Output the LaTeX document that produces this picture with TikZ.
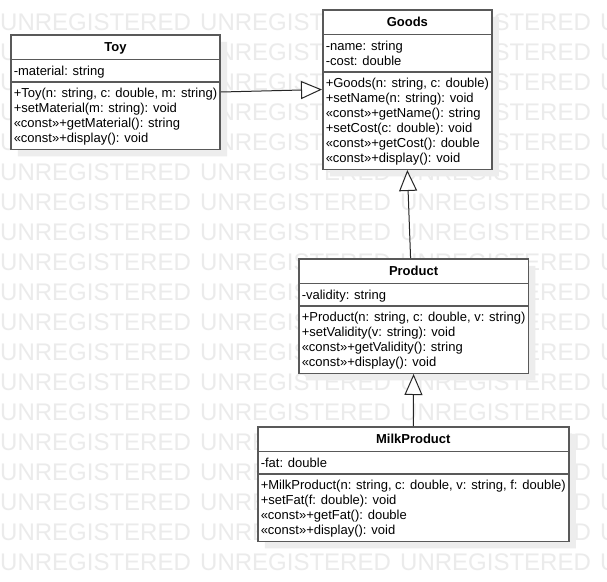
\documentclass[tikz,border=0pt]{standalone}
\usepackage{fontspec}
\setmainfont{Liberation Sans}
\usetikzlibrary{shapes.multipart,arrows.meta,shadows,calc}
\newcommand{\rowstrut}{\rule[-3pt]{0pt}{15pt}}
\newcommand{\headstrut}{\rule[-4pt]{0pt}{17pt}}
\begin{document}
\begin{tikzpicture}[x=1pt,y=-1pt,
  umlclass/.style={rectangle split, rectangle split parts=3,
    rectangle split part align={center,left,left}, align=left,
    draw=black!65, line width=1.5pt, fill=white,
    inner xsep=3pt, inner ysep=3pt, anchor=north west,
    font=\fontsize{13}{15}\selectfont,
    drop shadow={shadow xshift=7pt, shadow yshift=-7pt, fill=black!7, opacity=1}},
  inherit/.style={draw=black!85, line width=1pt,
    -{Triangle[length=21pt, width=18pt, fill=white]}},
  wmark/.style={text=black!8, font=\fontsize{24}{28}\selectfont,
    inner sep=0pt, anchor=base west}]
\useasboundingbox (0,0) rectangle (607,581);
\clip (0,0) rectangle (607,581);
\fill[white] (0,0) rectangle (607,581);

% watermark
\foreach \r in {0,...,18}
  \foreach \c in {0,...,3}
    \node[wmark] (wm-\r-\c) at (200*\c, 30+30*\r) {UNREGISTERED};

% Toy
\node[umlclass] (toy) at (10,34)
  {\headstrut\textbf{Toy}
   \nodepart{two}\rowstrut-material: string
   \nodepart{three}\rowstrut+Toy(n: string, c: double, m: string)\\
   \rowstrut+setMaterial(m: string): void\\
   \rowstrut«const»+getMaterial(): string\\
   \rowstrut«const»+display(): void};

% Goods
\node[umlclass] (goods) at (322,9)
  {\headstrut\textbf{Goods}
   \nodepart{two}\rowstrut-name: string\\
   \rowstrut-cost: double
   \nodepart{three}\rowstrut+Goods(n: string, c: double)\\
   \rowstrut+setName(n: string): void\\
   \rowstrut«const»+getName(): string\\
   \rowstrut+setCost(c: double): void\\
   \rowstrut«const»+getCost(): double\\
   \rowstrut«const»+display(): void};

% Product
\node[umlclass] (product) at (298,258)
  {\headstrut\textbf{Product}
   \nodepart{two}\rowstrut-validity: string
   \nodepart{three}\rowstrut+Product(n: string, c: double, v: string)\\
   \rowstrut+setValidity(v: string): void\\
   \rowstrut«const»+getValidity(): string\\
   \rowstrut«const»+display(): void};

% MilkProduct
\node[umlclass] (milk) at (257,426)
  {\headstrut\textbf{MilkProduct}
   \nodepart{two}\rowstrut-fat: double
   \nodepart{three}\rowstrut+MilkProduct(n: string, c: double, v: string, f: double)\\
   \rowstrut+setFat(f: double): void\\
   \rowstrut«const»+getFat(): double\\
   \rowstrut«const»+display(): void};

% generalizations
\draw[inherit] (toy.east) -- (goods.west);
\draw[inherit] ($(product.north)+(-3,0)$) -- (goods.south);
\draw[inherit] (milk.north) -- (product.south);
\end{tikzpicture}
\end{document}
